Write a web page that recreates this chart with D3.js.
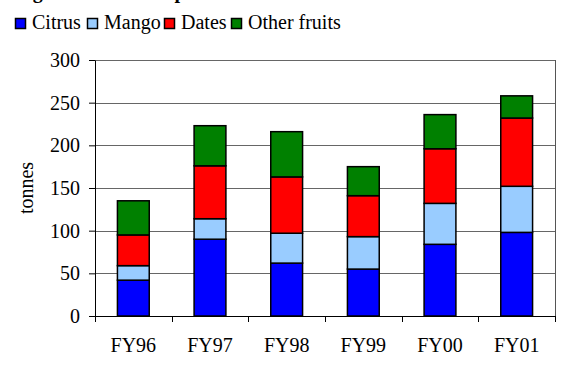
<!DOCTYPE html>
<html>
<head>
<meta charset="utf-8">
<script src="https://cdn.jsdelivr.net/npm/d3@7"></script>
<style>
  html, body { margin: 0; padding: 0; background: #fff; }
</style>
</head>
<body>
<svg id="chart" width="561" height="373" style="display:block"></svg>
<script>
// Fruit exports by financial year, tonnes
const years = ["FY96", "FY97", "FY98", "FY99", "FY00", "FY01"];
const citrus = [42, 90, 62, 55, 84, 98];
const mango = [17, 24, 35, 38, 48, 54];
const dates = [36, 62, 66, 48, 64, 80];
const otherFruits = [40, 47, 53, 34, 40, 26];
const seriesNames = ["Citrus", "Mango", "Dates", "Other fruits"];
const seriesColors = ["#0000FF", "#99CCFF", "#FF0000", "#008000"];
const yTicks = [0, 50, 100, 150, 200, 250, 300];

const FONT = "'Liberation Serif', 'Times New Roman', 'DejaVu Serif', serif";
const FS = 20;

const rows = years.map((yr, i) => ({
  year: yr,
  "Citrus": citrus[i],
  "Mango": mango[i],
  "Dates": dates[i],
  "Other fruits": otherFruits[i]
}));

const svg = d3.select("#chart").style("font-family", FONT);
const plotL = 95, plotR = 555, plotT = 60, plotB = 316;

const x = d3.scaleBand().domain(years).range([plotL, plotR]);
const y = d3.scaleLinear().domain([0, 300]).range([plotB, plotT]);
const color = d3.scaleOrdinal().domain(seriesNames).range(seriesColors);

function label(sel) {
  return sel.style("font-family", FONT).style("font-size", FS + "px").attr("fill", "#000");
}

// Title (sits above the visible area)
label(svg.append("text"))
  .attr("x", 15).attr("y", -2)
  .attr("font-weight", "bold")
  .text("Figure 7.2  Fruit exports");

// Gridlines
svg.append("g").selectAll("line")
  .data(yTicks.filter(t => t > 0))
  .join("line")
  .attr("x1", plotL).attr("x2", plotR)
  .attr("y1", d => Math.round(y(d)) + 0.5).attr("y2", d => Math.round(y(d)) + 0.5)
  .attr("stroke", "#666")
  .attr("stroke-width", 1);

// Right border
svg.append("line")
  .attr("x1", plotR + 0.5).attr("x2", plotR + 0.5)
  .attr("y1", plotT).attr("y2", plotB)
  .attr("stroke", "#555");

// Stacked bars
const stack = d3.stack().keys(seriesNames)(rows);
const barW = x.bandwidth() * 0.415;
svg.append("g").selectAll("g")
  .data(stack)
  .join("g")
  .attr("fill", d => color(d.key))
  .selectAll("rect")
  .data(d => d)
  .join("rect")
  .attr("x", d => x(d.data.year) + (x.bandwidth() - barW) / 2)
  .attr("y", d => y(d[1]))
  .attr("width", barW)
  .attr("height", d => y(d[0]) - y(d[1]))
  .attr("stroke", "#000")
  .attr("stroke-width", 1.5);

// Y axis
const yAxis = svg.append("g")
  .attr("transform", `translate(${plotL},0)`)
  .call(d3.axisLeft(y).tickValues(yTicks).tickSize(6).tickSizeOuter(0).tickPadding(9));
yAxis.attr("font-family", null).attr("font-size", null);
label(yAxis.selectAll("text"));
yAxis.select(".domain").attr("stroke", "#000");

// X axis with ticks between categories
const xAxisG = svg.append("g").attr("transform", `translate(0,${plotB})`);
xAxisG.append("line")
  .attr("x1", plotL).attr("x2", plotR)
  .attr("y1", 0.5).attr("y2", 0.5)
  .attr("stroke", "#000");
const bounds = years.map(d => x(d)).concat([plotR]);
xAxisG.selectAll("line.tk")
  .data(bounds)
  .join("line")
  .attr("class", "tk")
  .attr("x1", d => Math.round(d) + 0.5).attr("x2", d => Math.round(d) + 0.5)
  .attr("y1", 0).attr("y2", 6)
  .attr("stroke", "#000");
label(xAxisG.selectAll("text")
  .data(years)
  .join("text"))
  .attr("x", d => x(d) + x.bandwidth() / 2)
  .attr("y", 36)
  .attr("text-anchor", "middle")
  .text(d => d);

// Y axis title
label(svg.append("text"))
  .attr("transform", "translate(33,188) rotate(-90)")
  .attr("text-anchor", "middle")
  .text("tonnes");

// Legend
const legendX = [15, 87, 164, 231];
const leg = svg.append("g").selectAll("g")
  .data(seriesNames)
  .join("g")
  .attr("transform", (d, i) => `translate(${legendX[i]},0)`);
leg.append("rect")
  .attr("x", 0.5).attr("y", 18.5)
  .attr("width", 10).attr("height", 10)
  .attr("fill", d => color(d))
  .attr("stroke", "#000")
  .attr("stroke-width", 1.5);
label(leg.append("text"))
  .attr("x", 17).attr("y", 29)
  .text(d => d);
</script>
</body>
</html>
